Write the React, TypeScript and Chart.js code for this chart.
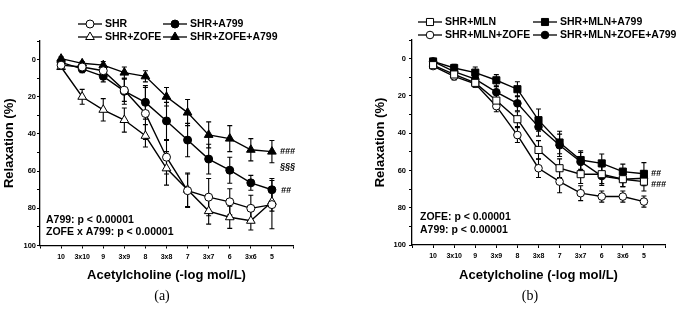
import React, { useEffect, useRef } from 'react';
import { Chart, registerables } from 'chart.js';
Chart.register(...registerables);

// ---------- data ----------
const categories = ['10', '3x10', '9', '3x9', '8', '3x8', '7', '3x7', '6', '3x6', '5'];

// panel (a)
const shr = [3, 4, 6, 16.5, 29, 52.5, 70.5, 74, 76.5, 80, 78];
const shrErr = [1, 2, 2, 6, 14, 9, 9, 10, 7, 7, 13];
const shrA799 = [1.5, 5, 9, 17, 23, 33, 43.3, 53.5, 59.5, 66.3, 70];
const shrA799Err = [1, 2, 3, 7, 9, 10, 9, 8, 7, 4, 6];
const shrZofe = [4, 20, 27, 32.5, 41, 58.5, 70, 81.5, 84.8, 86.7, 76.5];
const shrZofeErr = [1, 4, 6, 6.5, 6, 9, 9, 7, 6, 5, 5];
const shrZofeA799 = [-0.5, 2, 3, 7, 9, 20, 28.5, 40.5, 42.5, 48.5, 49.5];
const shrZofeA799Err = [1, 1, 2, 3, 3, 5, 7, 7, 7, 6, 6];

// panel (b)
const mln = [3.5, 8.5, 13, 22.5, 32.5, 49, 58.8, 62, 62, 64.7, 66];
const mlnErr = [1, 2, 2, 3, 4, 5, 5, 5, 5, 4, 5];
const mlnA799 = [1.5, 5, 7.5, 11.6, 16.4, 33, 45, 54.4, 56.2, 60.6, 61.8];
const mlnA799Err = [1, 2, 3, 3, 4, 6, 6, 5, 5, 4, 6];
const mlnZofe = [4, 9.5, 13.5, 25.5, 41, 58.8, 66, 72.2, 74, 74, 76.7];
const mlnZofeErr = [1, 2, 2, 3, 4, 5, 6, 4, 3, 3, 3];
const mlnZofeA799 = [1.5, 7, 11, 18, 24, 36.6, 46.5, 55.3, 63, 64.7, 64.2];
const mlnZofeA799Err = [1, 2, 2, 3, 4, 5, 6, 5, 5, 4, 4];

const yTickValues = [0, 20, 40, 60, 80, 100];

const FONT = "'Liberation Sans', Arial, sans-serif";

type Series = {
  label: string;
  values: number[];
  errors: number[];
  shape: 'circle' | 'triangle' | 'rect';
  filled: boolean;
  radius: number;
};

function drawMarker(ctx: CanvasRenderingContext2D, shape: string, x: number, y: number, r: number, filled: boolean) {
  ctx.save();
  ctx.beginPath();
  if (shape === 'circle') {
    ctx.arc(x, y, r, 0, Math.PI * 2);
  } else if (shape === 'triangle') {
    let a = 0;
    ctx.moveTo(x + Math.sin(a) * r, y - Math.cos(a) * r);
    a += (2 * Math.PI) / 3;
    ctx.lineTo(x + Math.sin(a) * r, y - Math.cos(a) * r);
    a += (2 * Math.PI) / 3;
    ctx.lineTo(x + Math.sin(a) * r, y - Math.cos(a) * r);
    ctx.closePath();
  } else {
    const s = r * Math.SQRT1_2;
    ctx.rect(x - s, y - s, 2 * s, 2 * s);
  }
  ctx.fillStyle = filled ? '#000' : '#fff';
  ctx.fill();
  ctx.lineWidth = 1;
  ctx.strokeStyle = '#000';
  ctx.stroke();
  ctx.restore();
}

const errorBarPlugin = {
  id: 'errorBars',
  beforeDatasetsDraw(chart: any) {
    const { ctx, scales } = chart;
    const xs = scales.x;
    const ys = scales.y;
    ctx.save();
    ctx.strokeStyle = '#000';
    ctx.lineWidth = 1.1;
    chart.data.datasets.forEach((ds: any) => {
      (ds.errors || []).forEach((e: number, i: number) => {
        const pt = ds.data[i];
        const px = xs.getPixelForValue(pt.x);
        const t = ys.getPixelForValue(pt.y - e);
        const b = ys.getPixelForValue(pt.y + e);
        ctx.beginPath();
        ctx.moveTo(px, t);
        ctx.lineTo(px, b);
        ctx.moveTo(px - 2.5, t);
        ctx.lineTo(px + 2.5, t);
        ctx.moveTo(px - 2.5, b);
        ctx.lineTo(px + 2.5, b);
        ctx.stroke();
      });
    });
    ctx.restore();
  },
};

const extrasPlugin = {
  id: 'extras',
  afterDraw(chart: any, _args: any, opts: any) {
    const { ctx, chartArea, scales } = chart;
    ctx.save();
    // legend
    const lg = opts.legend;
    chart.data.datasets.forEach((ds: any, i: number) => {
      const col = i % 2;
      const row = Math.floor(i / 2);
      const x0 = lg.cols[col];
      const y0 = lg.rows[row];
      ctx.beginPath();
      ctx.strokeStyle = '#000';
      ctx.lineWidth = 1.3;
      ctx.moveTo(x0, y0);
      ctx.lineTo(x0 + lg.lineLen, y0);
      ctx.stroke();
      drawMarker(ctx, ds.shape, x0 + lg.lineLen / 2, y0, ds.pointRadius, ds.filled);
      ctx.fillStyle = '#000';
      ctx.font = `bold 10.5px ${FONT}`;
      ctx.textAlign = 'left';
      ctx.textBaseline = 'middle';
      ctx.fillText(ds.label, x0 + lg.lineLen + 3, y0 + 0.5);
    });
    // stats annotations
    ctx.font = `bold 10.5px ${FONT}`;
    ctx.textAlign = 'left';
    ctx.textBaseline = 'middle';
    opts.stats.forEach((s: any) => {
      ctx.fillText(s.text, chartArea.left + s.dx, s.y);
    });
    // significance marks, anchored to last point of a dataset
    ctx.font = `italic bold 9px ${FONT}`;
    opts.sig.forEach((s: any) => {
      const ds = chart.data.datasets[s.ds];
      const pt = ds.data[ds.data.length - 1];
      const px = scales.x.getPixelForValue(pt.x);
      const py = scales.y.getPixelForValue(pt.y);
      ctx.fillText(s.text, px + s.dx, py + s.dy);
    });
    // caption
    ctx.font = `14px 'Liberation Serif', 'Times New Roman', serif`;
    ctx.textAlign = 'center';
    ctx.fillText(opts.caption.text, opts.caption.x, opts.caption.y);
    ctx.restore();
  },
};

function buildConfig(series: Series[], layout: any, extras: any) {
  const datasets = series.map((s) => ({
    label: s.label,
    data: s.values.map((v, i) => ({ x: i, y: v })),
    errors: s.errors,
    shape: s.shape,
    filled: s.filled,
    borderColor: '#000',
    borderWidth: 1.4,
    backgroundColor: s.filled ? '#000' : '#fff',
    pointBackgroundColor: s.filled ? '#000' : '#fff',
    pointBorderColor: '#000',
    pointBorderWidth: 1,
    pointStyle: s.shape,
    pointRadius: s.radius,
    tension: 0,
    fill: false,
  }));
  return {
    type: 'line' as const,
    data: { datasets },
    options: {
      animation: false,
      responsive: false,
      events: [],
      layout: { padding: layout.padding },
      plugins: {
        legend: { display: false },
        tooltip: { enabled: false },
        extras,
      },
      scales: {
        x: {
          type: 'linear',
          min: -1,
          max: 11,
          ticks: {
            stepSize: 1,
            autoSkip: false,
            maxRotation: 0,
            padding: 4,
            color: '#000',
            font: { family: FONT, size: 7, weight: 'bold' },
            callback: (v: number) => categories[v] ?? '',
          },
          grid: { drawOnChartArea: false, color: '#000', tickLength: 3, lineWidth: 1 },
          border: { color: '#000', width: 1.3 },
          title: {
            display: true,
            text: 'Acetylcholine (-log mol/L)',
            color: '#000',
            font: { family: FONT, size: 13, weight: 'bold' },
            padding: { top: 0, bottom: 26 },
          },
          afterFit: (s: any) => {
            s.height = layout.xHeight;
          },
        },
        y: {
          type: 'linear',
          reverse: true,
          min: -10,
          max: 100,
          ticks: {
            stepSize: 10,
            autoSkip: false,
            padding: layout.yTickPad,
            color: '#000',
            font: { family: FONT, size: 7.5, weight: 'bold' },
            callback: (v: number) => (yTickValues.includes(v) ? String(v) : ''),
          },
          grid: { drawOnChartArea: false, color: '#000', tickLength: 3, lineWidth: 1 },
          border: { color: '#000', width: 1.3 },
          title: {
            display: true,
            text: 'Relaxation (%)',
            color: '#000',
            font: { family: FONT, size: 13, weight: 'bold' },
            padding: { top: layout.yTitlePad, bottom: 0 },
          },
          afterFit: (s: any) => {
            s.width = layout.yWidth;
          },
        },
      },
    },
    plugins: [errorBarPlugin, extrasPlugin],
  };
}

const leftSeries: Series[] = [
  { label: 'SHR', values: shr, errors: shrErr, shape: 'circle', filled: false, radius: 4 },
  { label: 'SHR+A799', values: shrA799, errors: shrA799Err, shape: 'circle', filled: true, radius: 4 },
  { label: 'SHR+ZOFE', values: shrZofe, errors: shrZofeErr, shape: 'triangle', filled: false, radius: 5 },
  { label: 'SHR+ZOFE+A799', values: shrZofeA799, errors: shrZofeA799Err, shape: 'triangle', filled: true, radius: 5 },
];

const rightSeries: Series[] = [
  { label: 'SHR+MLN', values: mln, errors: mlnErr, shape: 'rect', filled: false, radius: 5 },
  { label: 'SHR+MLN+A799', values: mlnA799, errors: mlnA799Err, shape: 'rect', filled: true, radius: 5 },
  { label: 'SHR+MLN+ZOFE', values: mlnZofe, errors: mlnZofeErr, shape: 'circle', filled: false, radius: 3.8 },
  { label: 'SHR+MLN+ZOFE+A799', values: mlnZofeA799, errors: mlnZofeA799Err, shape: 'circle', filled: true, radius: 3.8 },
];

function Panel({ series, layout, extras, left, width }: any) {
  const ref = useRef<HTMLCanvasElement | null>(null);
  useEffect(() => {
    if (!ref.current) return;
    const chart = new Chart(ref.current, buildConfig(series, layout, extras) as any);
    return () => chart.destroy();
  }, []);
  return (
    <canvas
      ref={ref}
      width={width}
      height={309}
      style={{ position: 'absolute', left, top: 0, width, height: 309, display: 'block' }}
    />
  );
}

export default function App() {
  return (
    <div style={{ position: 'absolute', left: 0, top: 0, width: 685, height: 309, background: '#fff', overflow: 'hidden' }}>
      <Panel
        series={leftSeries}
        left={0}
        width={342}
        layout={{ padding: { left: 0, top: 41, right: 49, bottom: 0 }, xHeight: 63.5, yWidth: 40, yTickPad: 1, yTitlePad: 1.5 }}
        extras={{
          legend: { cols: [78, 163], rows: [24, 37], lineLen: 24 },
          stats: [
            { text: 'A799: p < 0.00001', dx: 6, y: 220 },
            { text: 'ZOFE x A799: p < 0.00001', dx: 6, y: 232 },
          ],
          sig: [
            { text: '###', ds: 3, dx: 8, dy: 0 },
            { text: '§§§', ds: 3, dx: 8, dy: 15 },
            { text: '##', ds: 1, dx: 9, dy: 1 },
          ],
          caption: { text: '(a)', x: 162, y: 296 },
        }}
      />
      <Panel
        series={rightSeries}
        left={342}
        width={343}
        layout={{ padding: { left: 0, top: 40, right: 20, bottom: 0 }, xHeight: 64, yWidth: 70, yTickPad: 3, yTitlePad: 31 }}
        extras={{
          legend: { cols: [76, 191], rows: [22, 35], lineLen: 24 },
          stats: [
            { text: 'ZOFE: p < 0.00001', dx: 8, y: 217 },
            { text: 'A799: p < 0.00001', dx: 8, y: 230 },
          ],
          sig: [
            { text: '##', ds: 1, dx: 7, dy: 0 },
            { text: '###', ds: 3, dx: 7, dy: 6 },
          ],
          caption: { text: '(b)', x: 188, y: 296 },
        }}
      />
    </div>
  );
}
